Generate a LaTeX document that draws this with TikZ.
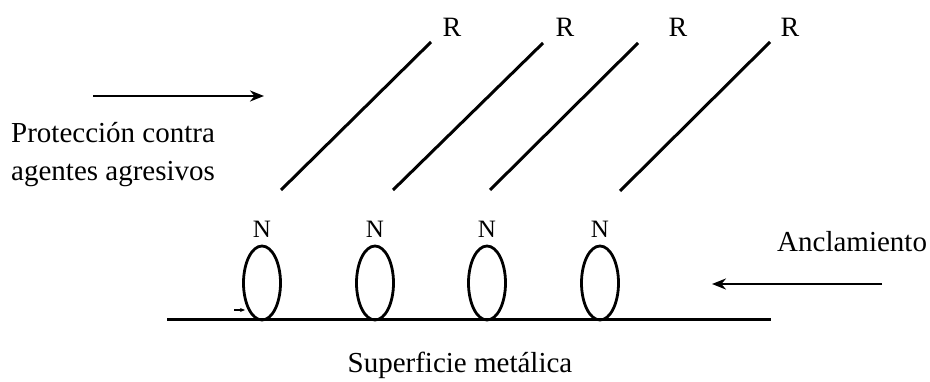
\documentclass[tikz,border=0pt]{standalone}
\usepackage{fontspec}
\setmainfont{Liberation Serif}
\usetikzlibrary{shapes.geometric,arrows.meta}
\tikzset{
  lbl/.style={inner sep=0pt,font=\fontsize{29}{35}\selectfont},
  nlbl/.style={inner sep=0pt,anchor=base,font=\fontsize{25}{28}\selectfont},
  rlbl/.style={inner sep=0pt,anchor=base,font=\fontsize{28}{32}\selectfont},
  anchorloop/.style={draw,ellipse,line width=2.8pt,minimum width=37pt,minimum height=74pt,inner sep=0pt},
  chain/.style={line width=3pt},
  bigarrow/.style={line width=2.2pt,-{Stealth[length=14pt,width=11pt]}},
}
\begin{document}
\begin{tikzpicture}[x=1pt,y=-1pt]
\useasboundingbox (0,0) rectangle (930,382);
% surface
\coordinate (s1) at (167,320);
\coordinate (s2) at (771,320);
\draw[line width=3pt] (s1) -- (s2);
% anchoring loops
\foreach \i/\x in {1/262,2/375,3/487,4/600}{
  \node[anchorloop] (e\i) at (\x,283) {};
  \node[nlbl] (n\i) at (\x,238) {N};
}
% chains
\coordinate (b1) at (281,190); \coordinate (t1) at (431,42);
\coordinate (b2) at (393,190); \coordinate (t2) at (543,43);
\coordinate (b3) at (490,190); \coordinate (t3) at (638,43);
\coordinate (b4) at (620,191); \coordinate (t4) at (770,42);
\foreach \i in {1,...,4}{ \draw[chain] (b\i) -- (t\i); }
\node[rlbl] (r1) at (452,37) {R};
\node[rlbl] (r2) at (565,37) {R};
\node[rlbl] (r3) at (678,37) {R};
\node[rlbl] (r4) at (790,37) {R};
% left label and arrow
\node[lbl,anchor=base west] (p1) at (11,143) {Protección contra};
\node[lbl,anchor=base west] (p2) at (11,181) {agentes agresivos};
\coordinate (a1) at (93,96);
\coordinate (a2) at (264,96);
\draw[bigarrow] (a1) -- (a2);
% right label and arrow
\node[lbl,anchor=base west] (an) at (777,252) {Anclamiento};
\coordinate (c1) at (882,284);
\coordinate (c2) at (712,284);
\draw[bigarrow] (c1) -- (c2);
% small arrow
\coordinate (d1) at (234,310);
\coordinate (d2) at (245,310);
\draw[line width=1.2pt,-{Stealth[length=5pt,width=4pt]}] (d1) -- (d2);
% bottom label
\node[lbl,anchor=base] (sm) at (460,373) {Superficie metálica};
\end{tikzpicture}
\end{document}
